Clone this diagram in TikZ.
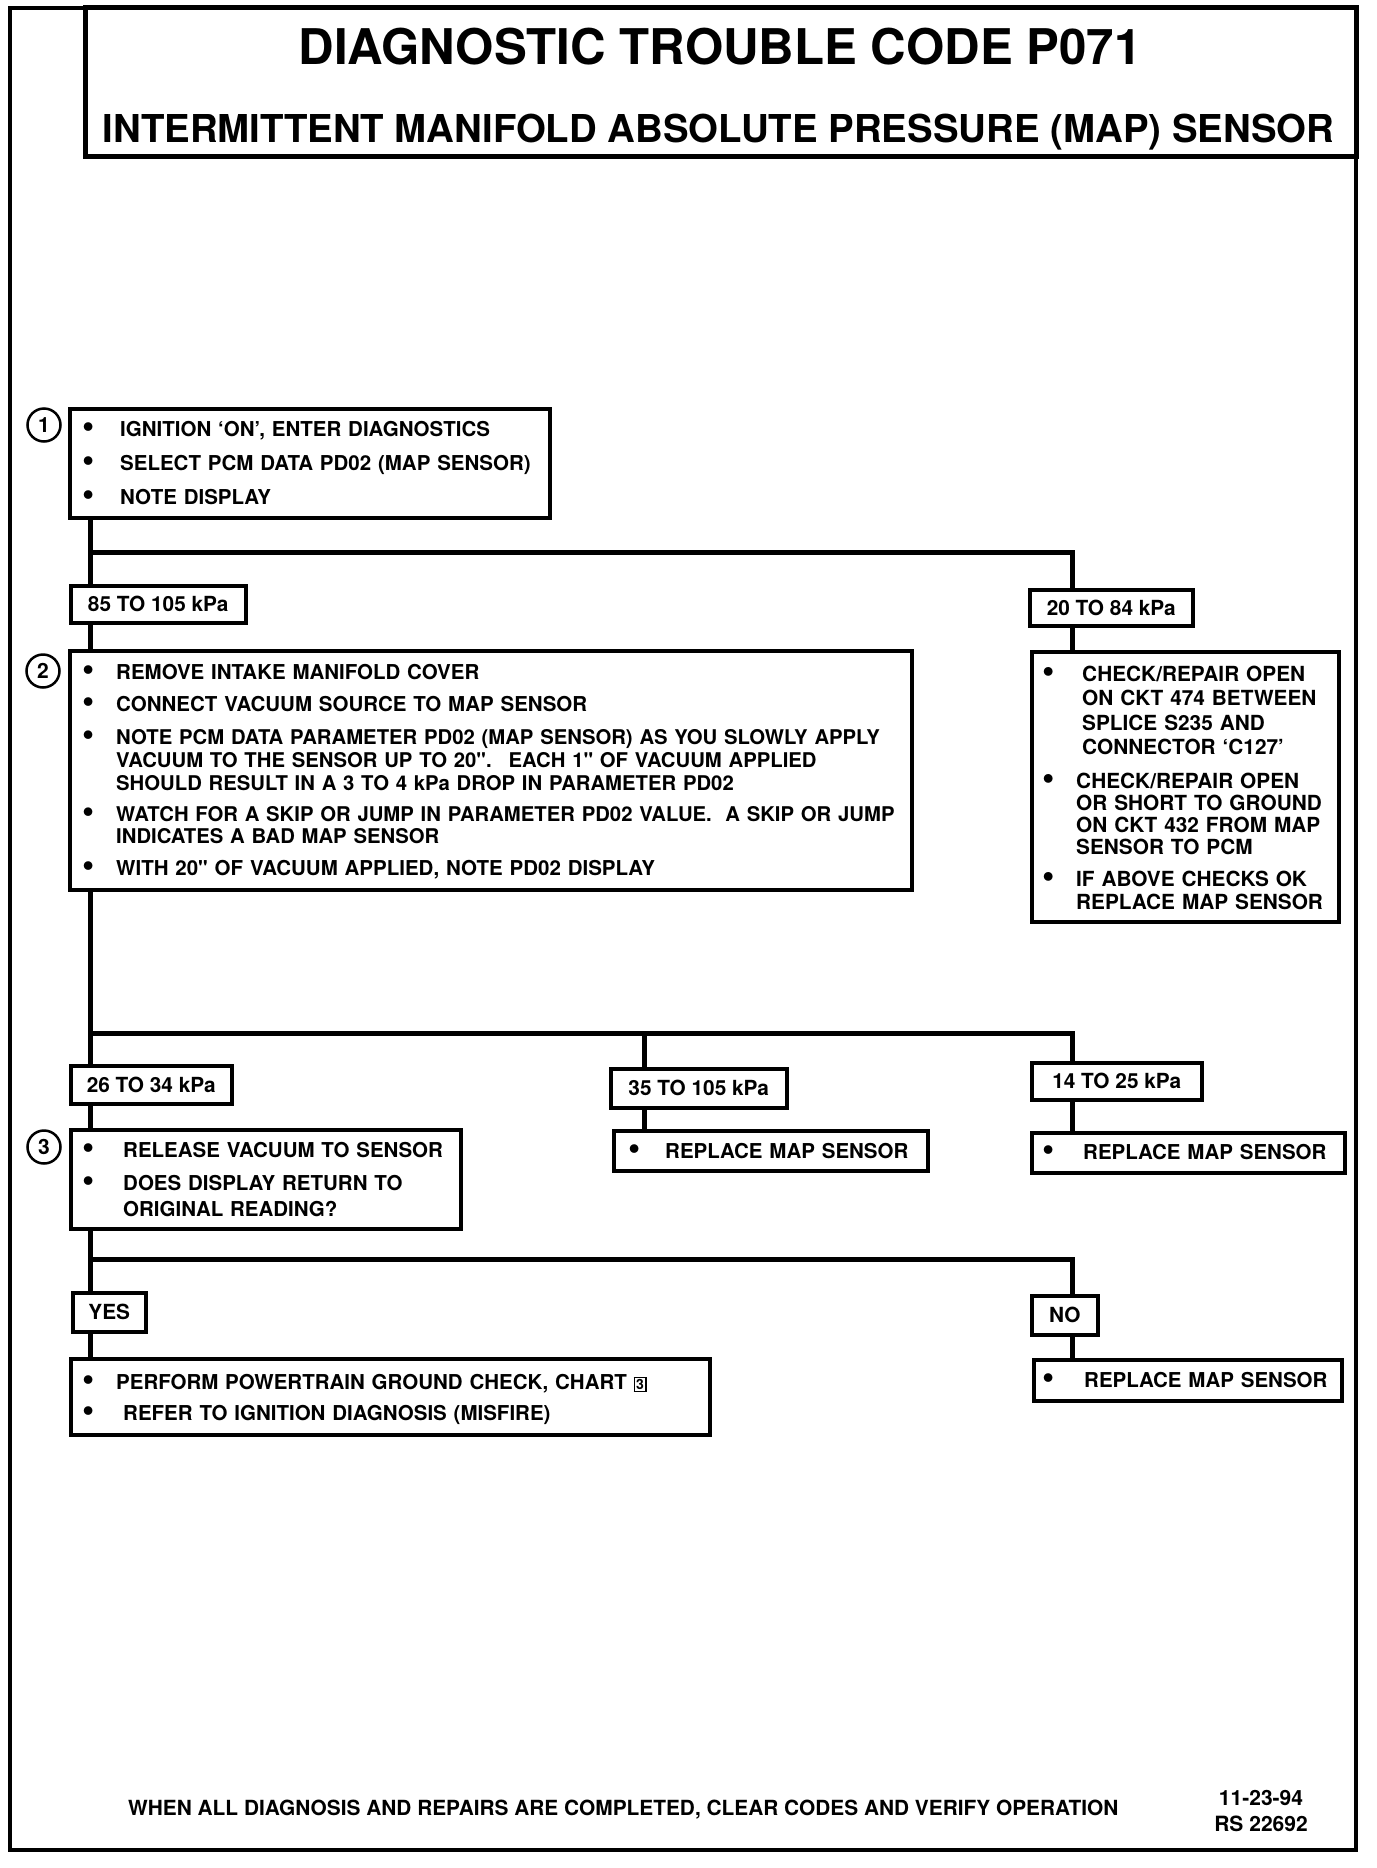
\documentclass[tikz,border=0pt]{standalone}
\usepackage{graphicx}
\usepackage{fontspec}
\setmainfont{TeX Gyre Heros}[Ligatures=TeXOff]
\newcommand\itm[2]{{\let\\\newline\hangindent=#1\hangafter=1\noindent\makebox[0pt][c]{\raisebox{-1.2pt}{\scalebox{1.7}{\textbullet}}}\hspace*{#1}#2\par}}
\newcommand\dq{\symbol{34}}
\newcommand\chartbox[1]{{\setlength\fboxsep{1pt}\setlength\fboxrule{1.5pt}\fbox{\fontsize{14}{14}\selectfont #1}}}
\tikzset{
  box/.style={draw, line width=3.5pt, fill=white, anchor=north west, inner sep=0pt},
  lab/.style={draw, line width=3.5pt, fill=white, anchor=north west, inner sep=0pt,
    font=\bfseries\fontsize{20.8}{24}\selectfont, text height=15pt, text depth=0pt},
  conn/.style={line width=5pt},
  txt/.style={anchor=base west, inner sep=0pt, align=left, text width=850pt,
    font=\bfseries\fontsize{20.5}{23.5}\selectfont},
  numc/.style={draw, circle, line width=2.5pt, minimum size=33pt, inner sep=0pt,
    font=\bfseries\fontsize{21}{21}\selectfont},
}
\begin{document}
\begin{tikzpicture}[x=1pt,y=-1pt]
\useasboundingbox (0,0) rectangle (1376,1868);
% frame and title
\draw[line width=4.5pt] (10,8) rectangle (1356,1850);
\draw[line width=5pt] (85,8) rectangle (1356,156);
\node[anchor=base, inner sep=0pt, font=\bfseries\fontsize{49.2}{49}\selectfont] (title1) at (720,65) {DIAGNOSTIC TROUBLE CODE P071};
\node[anchor=base, inner sep=0pt, font=\bfseries\fontsize{38.4}{38}\selectfont] (title2) at (718.5,142) {INTERMITTENT MANIFOLD ABSOLUTE PRESSURE (MAP) SENSOR};

% step 1
\node[box, minimum width=480pt, minimum height=109pt] (b1) at (68,407) {};
\node[numc] (c1) at (44,425) {1};
\node[txt] (b1t1) at (88,436.5) {\itm{32pt}{IGNITION ‘ON’, ENTER DIAGNOSTICS}};
\node[txt] (b1t2) at (88,470.5) {\itm{32pt}{SELECT PCM DATA PD02 (MAP SENSOR)}};
\node[txt] (b1t3) at (88,504.5) {\itm{32pt}{NOTE DISPLAY}};

\coordinate (j1) at (90.5,552);
\coordinate (j1r) at (1072,552);
\node[lab, minimum width=175pt, minimum height=37pt] (l85) at (69,584) {85 TO 105 kPa};
\node[lab, minimum width=163pt, minimum height=36pt] (l20) at (1028,588) {20 TO 84 kPa};

% step 2
\node[box, minimum width=842pt, minimum height=239pt] (b2) at (68,649) {};
\node[numc] (c2) at (43,671) {2};
\node[txt] (b2t1) at (88,679.5) {\itm{28pt}{REMOVE INTAKE MANIFOLD COVER}};
\node[txt] (b2t2) at (88,711.5) {\itm{28pt}{CONNECT VACUUM SOURCE TO MAP SENSOR}};
\node[txt, font=\bfseries\fontsize{20.3}{23}\selectfont] (b2t3) at (88,744.5) {\itm{28pt}{NOTE PCM DATA PARAMETER PD02 (MAP SENSOR) AS YOU SLOWLY APPLY\\VACUUM TO THE SENSOR UP TO 20\dq.~ EACH 1\dq{} OF VACUUM APPLIED\\SHOULD RESULT IN A 3 TO 4 kPa DROP IN PARAMETER PD02}};
\node[txt, font=\bfseries\fontsize{20.3}{22}\selectfont] (b2t4) at (88,821.5) {\itm{28pt}{WATCH FOR A SKIP OR JUMP IN PARAMETER PD02 VALUE.~ A SKIP OR JUMP\\INDICATES A BAD MAP SENSOR}};
\node[txt] (b2t5) at (88,875.5) {\itm{28pt}{WITH 20\dq{} OF VACUUM APPLIED, NOTE PD02 DISPLAY}};

% right box
\node[box, minimum width=307pt, minimum height=270pt] (b2r) at (1030,650) {};
\node[txt, font=\bfseries\fontsize{20.8}{24.3}\selectfont] (b2rt1) at (1048,681.5) {\itm{34pt}{CHECK/REPAIR OPEN\\ON CKT 474 BETWEEN\\SPLICE S235 AND\\CONNECTOR ‘C127’}};
\node[txt, font=\bfseries\fontsize{20.8}{22}\selectfont] (b2rt2) at (1048,788.5) {\itm{28pt}{CHECK/REPAIR OPEN\\OR SHORT TO GROUND\\ON CKT 432 FROM MAP\\SENSOR TO PCM}};
\node[txt, font=\bfseries\fontsize{20.8}{23}\selectfont] (b2rt3) at (1048,886.5) {\itm{28pt}{IF ABOVE CHECKS OK\\REPLACE MAP SENSOR}};

% second branching
\coordinate (j2) at (90.5,1033);
\coordinate (j2m) at (644.5,1033);
\coordinate (j2r) at (1072,1033);
\node[lab, minimum width=161pt, minimum height=38pt] (l26) at (69,1064) {26 TO 34 kPa};
\node[lab, minimum width=176pt, minimum height=39pt] (l35) at (609,1067) {35 TO 105 kPa};
\node[lab, minimum width=170pt, minimum height=37pt] (l14) at (1030,1061) {14 TO 25 kPa};

\node[box, minimum width=314pt, minimum height=40pt] (bm) at (612,1129) {};
\node[txt] (bmt) at (634,1158.5) {\itm{31pt}{REPLACE MAP SENSOR}};
\node[box, minimum width=313pt, minimum height=40pt] (br) at (1030,1131) {};
\node[txt] (brt) at (1048,1159) {\itm{35pt}{REPLACE MAP SENSOR}};

% step 3
\node[box, minimum width=390pt, minimum height=99pt] (b3) at (69,1128) {};
\node[numc] (c3) at (44,1147) {3};
\node[txt] (b3t1) at (88,1157.5) {\itm{35pt}{RELEASE VACUUM TO SENSOR}};
\node[txt, font=\bfseries\fontsize{20.5}{26}\selectfont] (b3t2) at (88,1190.5) {\itm{35pt}{DOES DISPLAY RETURN TO\\ORIGINAL READING?}};

\coordinate (j3) at (90.5,1259);
\coordinate (j3r) at (1072,1259);
\node[lab, minimum width=73pt, minimum height=39pt] (lyes) at (71,1291) {YES};
\node[lab, minimum width=66pt, minimum height=39pt] (lno) at (1030,1294) {NO};

\node[box, minimum width=639pt, minimum height=76pt] (byes) at (69,1357) {};
\node[txt] (byest1) at (88,1389.5) {\itm{28pt}{PERFORM POWERTRAIN GROUND CHECK, CHART \chartbox{3}}};
\node[txt] (byest2) at (88,1420.5) {\itm{35pt}{REFER TO IGNITION DIAGNOSIS (MISFIRE)}};
\node[box, minimum width=308pt, minimum height=41pt] (bno) at (1032,1358) {};
\node[txt] (bnot) at (1048,1387.5) {\itm{36pt}{REPLACE MAP SENSOR}};

% connectors
\draw[conn] (b1.south -| j1) -- (l85.north -| j1);
\draw[conn] (j1) -- (j1r) -- (l20.north -| j1r);
\draw[conn] (l85.south -| j1) -- (b2.north -| j1);
\draw[conn] (l20.south -| j1r) -- (b2r.north -| j1r);
\draw[conn] (b2.south -| j2) -- (l26.north -| j2);
\draw[conn] (j2) -- (j2r) -- (l14.north -| j2r);
\draw[conn] (j2m) -- (l35.north -| j2m);
\draw[conn] (l26.south -| j2) -- (b3.north -| j2);
\draw[conn] (l35.south -| j2m) -- (bm.north -| j2m);
\draw[conn] (l14.south -| j2r) -- (br.north -| j2r);
\draw[conn] (b3.south -| j3) -- (lyes.north -| j3);
\draw[conn] (j3) -- (j3r) -- (lno.north -| j3r);
\draw[conn] (lyes.south -| j3) -- (byes.north -| j3);
\draw[conn] (lno.south -| j3r) -- (bno.north -| j3r);

% footer
\node[anchor=base west, inner sep=0pt, font=\bfseries\fontsize{20.85}{20.85}\selectfont] (foot) at (128,1815) {WHEN ALL DIAGNOSIS AND REPAIRS ARE COMPLETED, CLEAR CODES AND VERIFY OPERATION};
\node[anchor=base, inner sep=0pt, font=\bfseries\fontsize{21}{21}\selectfont] (date) at (1261,1805) {11-23-94};
\node[anchor=base, inner sep=0pt, font=\bfseries\fontsize{21}{21}\selectfont] (rsno) at (1261,1831) {RS 22692};
\end{tikzpicture}
\end{document}
